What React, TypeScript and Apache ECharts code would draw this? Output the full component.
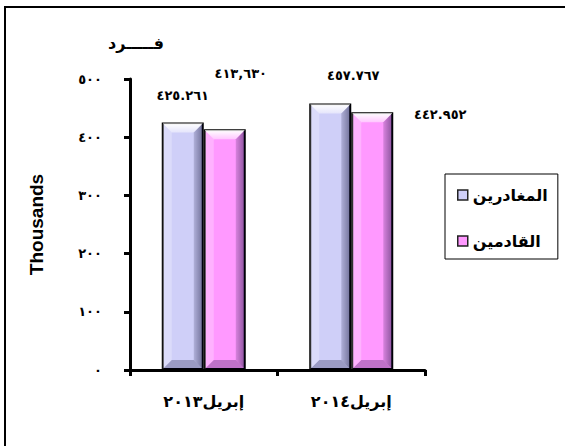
import React, { useEffect, useRef } from "react";
import * as echarts from "echarts";

const categories = ["إبريل٢٠١٣", "إبريل٢٠١٤"];
const seriesNames = ["المغادرين", "القادمين"];
const departures = [425.261, 457.767];
const arrivals = [413.63, 442.952];
const departureLabels = ["٤٢٥.٢٦١", "٤٥٧.٧٦٧"];
const arrivalLabels = ["٤١٣,٦٣٠", "٤٤٢.٩٥٢"];
const yTicks = { min: 0, max: 500, interval: 100 };
const unitLabel = "فـــــرد";
const axisName = "Thousands";

const toArabicDigits = (s: string) =>
  s.replace(/[0-9]/g, (d) => "٠١٢٣٤٥٦٧٨٩"[Number(d)]);

const FONT = "'DejaVu Sans', 'Noto Sans', sans-serif";
const BAR_W = 42;

function bevelSeries(values: number[], side: number) {
  return {
    type: "custom",
    silent: true,
    z: 3,
    data: values.map((v, i) => [i, v]),
    encode: { x: 0, y: 1 },
    renderItem: (params: any, api: any) => {
      const top = api.coord([api.value(0), api.value(1)]);
      const bot = api.coord([api.value(0), 0]);
      const cx = top[0];
      const x0 = (side === 0 ? cx - BAR_W : cx) + 1;
      const x1 = (side === 0 ? cx : cx + BAR_W) - 1;
      const y0 = top[1] + 1;
      const y1 = bot[1] - 1;
      const b = 9;
      const poly = (pts: number[][], fill: any) => ({
        type: "polygon",
        shape: { points: pts },
        style: { fill },
      });
      return {
        type: "group",
        children: [
          poly(
            [[x0, y0], [x1, y0], [x1 - b, y0 + b], [x0 + b, y0 + b]],
            new echarts.graphic.LinearGradient(0, 0, 0, 1, [
              { offset: 0, color: "rgba(255,255,255,1)" },
              { offset: 1, color: "rgba(255,255,255,0.45)" },
            ])
          ),
          poly(
            [[x1, y0], [x1, y1], [x1 - b, y1 - b], [x1 - b, y0 + b]],
            new echarts.graphic.LinearGradient(0, 0, 1, 0, [
              { offset: 0, color: "rgba(0,0,40,0.15)" },
              { offset: 1, color: "rgba(0,0,40,0.45)" },
            ])
          ),
          poly(
            [[x0, y1], [x1, y1], [x1 - b, y1 - b], [x0 + b, y1 - b]],
            "rgba(0,0,40,0.25)"
          ),
          poly(
            [[x0, y0], [x0, y1], [x0 + b, y1 - b], [x0 + b, y0 + b]],
            "rgba(255,255,255,0.25)"
          ),
        ],
      };
    },
  };
}

export default function App() {
  const ref = useRef<HTMLDivElement>(null);
  useEffect(() => {
    document.body.style.margin = "0";
    const chart = echarts.init(ref.current!, undefined, { renderer: "svg" });
    const depOffsets = [
      [0, -15],
      [23, -17],
    ];
    const arrOffsets = [
      [16, -44],
      [68, 14],
    ];
    const labelBase = {
      show: true,
      position: "top",
      distance: 5,
      color: "#000",
      fontWeight: "bold",
      fontSize: 13,
      fontFamily: FONT,
    };
    chart.setOption({
      animation: false,
      backgroundColor: "#fff",
      graphic: [
        {
          type: "rect",
          shape: { x: 5, y: 7, width: 700, height: 600 },
          style: { fill: "none", stroke: "#000", lineWidth: 2 },
          silent: true,
        },
        {
          type: "text",
          x: 136,
          y: 43,
          style: {
            text: unitLabel,
            fill: "#000",
            font: `bold 16px ${FONT}`,
            align: "center",
            verticalAlign: "middle",
          },
        },
      ],
      grid: { left: 130, right: 140, top: 79, bottom: 76 },
      legend: {
        orient: "vertical",
        left: 445,
        top: 174,
        padding: [13, 10, 10, 12],
        itemGap: 30,
        itemWidth: 10,
        itemHeight: 10,
        icon: "rect",
        borderColor: "#000",
        borderWidth: 1,
        backgroundColor: "#fff",
        itemStyle: { borderColor: "#222", borderWidth: 1.5 },
        textStyle: {
          color: "#000",
          fontWeight: "bold",
          fontSize: 16,
          fontFamily: FONT,
        },
        data: seriesNames,
      },
      xAxis: {
        type: "category",
        data: categories,
        axisLine: { lineStyle: { color: "#000", width: 3 } },
        axisTick: { show: true, length: 6, lineStyle: { color: "#000", width: 3 } },
        axisLabel: {
          color: "#000",
          fontWeight: "bold",
          fontSize: 16,
          fontFamily: FONT,
          margin: 23,
        },
      },
      yAxis: {
        type: "value",
        min: yTicks.min,
        max: yTicks.max,
        interval: yTicks.interval,
        name: axisName,
        nameLocation: "middle",
        nameRotate: 90,
        nameGap: 84,
        nameTextStyle: {
          color: "#000",
          fontWeight: "bold",
          fontSize: 19,
          fontFamily: "'Liberation Sans', Arial, sans-serif",
        },
        splitLine: { show: false },
        axisLine: { show: true, lineStyle: { color: "#000", width: 3 } },
        axisTick: { show: true, length: 6, lineStyle: { color: "#000", width: 3 } },
        axisLabel: {
          color: "#000",
          fontWeight: "bold",
          fontSize: 13,
          fontFamily: FONT,
          margin: 28,
          formatter: (v: number) => toArabicDigits(String(v)),
        },
      },
      series: [
        {
          name: seriesNames[0],
          type: "bar",
          barWidth: BAR_W,
          barGap: "0%",
          itemStyle: { color: "#cfcff8", borderColor: "#000", borderWidth: 2 },
          label: {
            ...labelBase,
            formatter: (p: any) => departureLabels[p.dataIndex],
          },
          data: departures.map((v, i) => ({
            value: v,
            label: { offset: depOffsets[i] },
          })),
        },
        {
          name: seriesNames[1],
          type: "bar",
          barWidth: BAR_W,
          barGap: "0%",
          itemStyle: { color: "#ff99ff", borderColor: "#000", borderWidth: 2 },
          label: {
            ...labelBase,
            formatter: (p: any) => arrivalLabels[p.dataIndex],
          },
          data: arrivals.map((v, i) => ({
            value: v,
            label: { offset: arrOffsets[i] },
          })),
        },
        bevelSeries(departures, 0),
        bevelSeries(arrivals, 1),
      ],
    });
    return () => chart.dispose();
  }, []);
  return <div ref={ref} style={{ width: 565, height: 446 }} />;
}
